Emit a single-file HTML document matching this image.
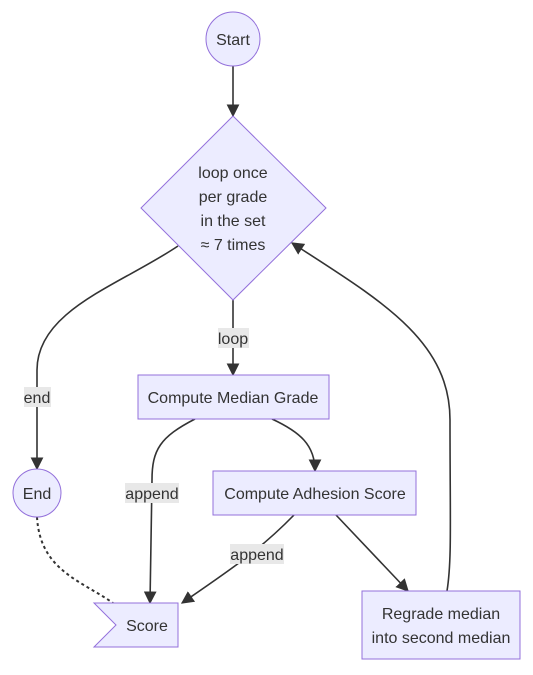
<!DOCTYPE html>
<html><head><style>body{margin:0;background:#fff}svg{display:block}text{font-family:"Liberation Sans",sans-serif;font-size:16px;fill:#333}</style></head>
<body>
<svg width="533" height="675" viewBox="0 0 533 675">
<defs><marker id="a" viewBox="0 0 10 10" refX="9" refY="5" markerWidth="8" markerHeight="8" orient="auto"><path d="M0,0L10,5L0,10z" fill="#333"/></marker></defs>
<g fill="none" stroke="#333" stroke-width="1.6">
<path d="M233,66V116" marker-end="url(#a)"/>
<path d="M233,300V375" marker-end="url(#a)"/>
<path d="M178,246C120,285 37,310 37,370V469" marker-end="url(#a)"/>
<path d="M195,419C160,437 152,450 152,480L150,603" marker-end="url(#a)"/>
<path d="M272,419C300,432 315,445 315,471" marker-end="url(#a)"/>
<path d="M294,515C260,550 230,570 182,603" marker-end="url(#a)"/>
<path d="M336,515L408,591" marker-end="url(#a)"/>
<path d="M447,591C452,560 450,520 450,420C450,340 380,300 292,243" marker-end="url(#a)"/>
<path d="M37,517C40,570 80,580 113,603" stroke-dasharray="3,3" stroke-width="2"/>
</g>
<g fill="#ECECFF" stroke="#9370DB" stroke-width="1">
<circle cx="233" cy="39" r="27"/>
<path d="M233,116L326,208L233,300L141,208Z"/>
<rect x="138" y="375" width="191" height="44"/>
<rect x="213" y="471" width="203" height="44"/>
<rect x="362" y="591" width="158" height="68"/>
<circle cx="37" cy="493" r="24"/>
<path d="M94,603H178V647H94L116,625Z"/>
</g>
<g fill="#e8e8e8">
<rect x="218" y="328" width="31" height="20"/>
<rect x="24" y="387" width="27" height="20"/>
<rect x="125" y="483" width="54" height="20"/>
<rect x="230" y="544" width="54" height="20"/>
</g>
<g text-anchor="middle">
<text x="233" y="45">Start</text>
<text x="233" y="178">loop once</text>
<text x="233" y="202">per grade</text>
<text x="233" y="226">in the set</text>
<text x="233" y="250">≈ 7 times</text>
<text x="233" y="344">loop</text>
<text x="37" y="403">end</text>
<text x="233" y="403">Compute Median Grade</text>
<text x="152" y="499">append</text>
<text x="315" y="499">Compute Adhesion Score</text>
<text x="37" y="499">End</text>
<text x="257" y="560">append</text>
<text x="441" y="619">Regrade median</text>
<text x="441" y="643">into second median</text>
<text x="147" y="631">Score</text>
</g>
</svg>
</body></html>
